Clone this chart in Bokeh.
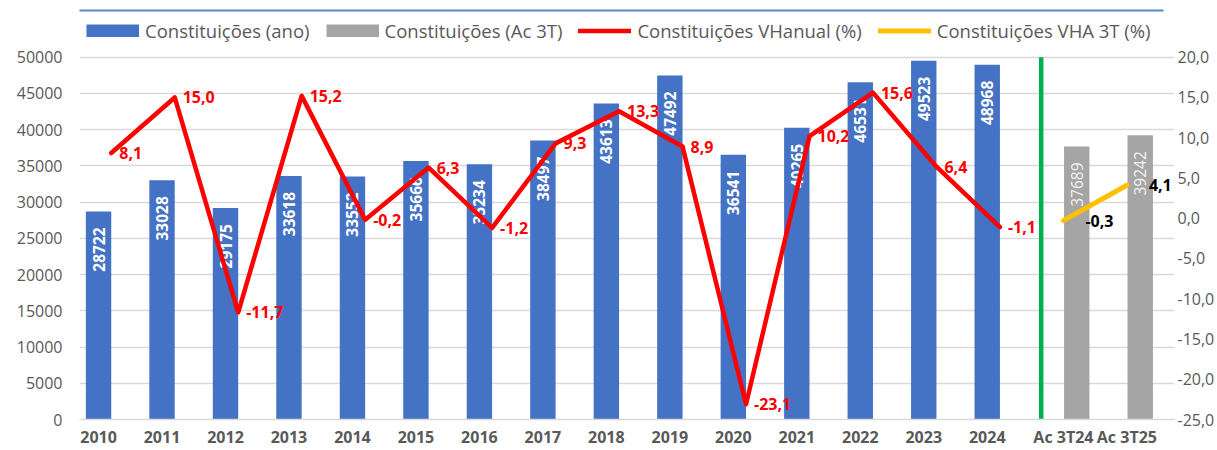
import math
from bokeh.plotting import figure
from bokeh.models import (Range1d, LinearAxis, FixedTicker, Legend, LegendItem,
                          ColumnDataSource, NumeralTickFormatter, LabelSet, BoxAnnotation)
from bokeh.transform import dodge
from bokeh.core.properties import value
from bokeh.embed import file_html
from bokeh.resources import INLINE

# ---------------- data ----------------
years = ["2010", "2011", "2012", "2013", "2014", "2015", "2016", "2017",
         "2018", "2019", "2020", "2021", "2022", "2023", "2024"]
annual_totals = [28722, 33028, 29175, 33618, 33552, 35666, 35234, 38497,
                 43613, 47492, 36541, 40265, 46531, 49523, 48968]
annual_change = [8.1, 15.0, -11.7, 15.2, -0.2, 6.3, -1.2, 9.3,
                 13.3, 8.9, -23.1, 10.2, 15.6, 6.4, -1.1]
ytd_periods = ["Ac 3T24", "Ac 3T25"]
ytd_totals = [37689, 39242]
ytd_change = [-0.3, 4.1]
categories = years + ytd_periods
separator_before = "Ac 3T24"
left_ticks = [0, 5000, 10000, 15000, 20000, 25000, 30000, 35000, 40000, 45000, 50000]
right_ticks = [-25, -20, -15, -10, -5, 0, 5, 10, 15, 20]

# ---------------- layout / style ----------------
FONT = "Open Sans"
AXIS_GREY = "#595959"
GRID = "#D9D9D9"
BLUE_SHIFT = -0.2
GREY_SHIFT = 0.21
W, H = 1217, 450
LEFT_PX, BOTTOM_PX = 79, 29          # space for the axes
TOP_PAD_PX, PLOT_PX = 57, 364        # legend strip above the value area, value-area height
RIGHT_EXTRA = 0.25                   # room (in category units) for the last point label


def pt(v):
    return f"{v:.1f}".replace(".", ",")


def centre(c):
    # centre of a category slot on the category scale (one unit per category)
    return categories.index(c) + 0.5


def extended_top(lo, hi):
    return hi + (hi - lo) * TOP_PAD_PX / PLOT_PX


src_a = ColumnDataSource(dict(xc=[centre(c) for c in years], total=annual_totals,
                              change=annual_change,
                              total_lbl=[str(v) for v in annual_totals],
                              change_lbl=[pt(v) for v in annual_change]))
src_y = ColumnDataSource(dict(xc=[centre(c) for c in ytd_periods], total=ytd_totals,
                              change=ytd_change,
                              total_lbl=[str(v) for v in ytd_totals],
                              change_lbl=[pt(v) for v in ytd_change]))

p = figure(x_range=Range1d(0, len(categories) + RIGHT_EXTRA),
           y_range=Range1d(left_ticks[0], extended_top(left_ticks[0], left_ticks[-1])),
           width=W, height=H, title=None, output_backend="svg", toolbar_location=None,
           x_axis_location=None, min_border_left=LEFT_PX, min_border_right=42,
           min_border_top=0, min_border_bottom=BOTTOM_PX)
p.outline_line_color = None
p.background_fill_color = "white"
p.border_fill_color = "white"

p.extra_y_ranges = {"pct": Range1d(right_ticks[0], extended_top(right_ticks[0], right_ticks[-1]))}

# grid
p.ygrid.ticker = FixedTicker(ticks=left_ticks)
p.ygrid.grid_line_color = GRID
p.ygrid.grid_line_width = 1.5
for g in p.xgrid:
    g.visible = False

# left axis
ya = p.yaxis[0]
ya.ticker = FixedTicker(ticks=left_ticks)
ya.formatter = NumeralTickFormatter(format="0")
ya.axis_line_color = None
ya.major_tick_line_color = None
ya.minor_tick_line_color = None
ya.major_tick_out = 0
ya.major_tick_in = 0
ya.major_label_standoff = 17
ya.major_label_text_font = FONT
ya.major_label_text_font_size = "16px"
ya.major_label_text_color = AXIS_GREY

# right axis
ra = LinearAxis(y_range_name="pct", ticker=FixedTicker(ticks=right_ticks),
                major_label_overrides={t: pt(t) for t in right_ticks})
ra.axis_line_color = None
ra.major_tick_line_color = None
ra.minor_tick_line_color = None
ra.major_tick_out = 0
ra.major_tick_in = 0
ra.major_label_standoff = 3
ra.major_label_text_font = FONT
ra.major_label_text_font_size = "16px"
ra.major_label_text_color = AXIS_GREY
p.add_layout(ra, "right")

# bottom axis (labels under annual bars, centred for the accumulated periods)
tick_pos = [round(centre(c) + (BLUE_SHIFT if c in years else 0.0), 3) for c in categories]
xa = LinearAxis(ticker=FixedTicker(ticks=tick_pos, minor_ticks=[]),
                major_label_overrides={t: c for t, c in zip(tick_pos, categories)})
xa.axis_line_color = GRID
xa.axis_line_width = 1.5
xa.major_tick_line_color = None
xa.minor_tick_line_color = None
xa.major_tick_out = 0
xa.major_tick_in = 0
xa.major_label_standoff = 6
xa.major_label_text_font = FONT
xa.major_label_text_font_size = "16px"
xa.major_label_text_font_style = "bold"
xa.major_label_text_color = AXIS_GREY
p.add_layout(xa, "below")

# bars
blue = p.vbar(x=dodge("xc", BLUE_SHIFT), top="total", width=0.4,
              fill_color="#4472C4", line_color=None, source=src_a)
grey = p.vbar(x=dodge("xc", GREY_SHIFT), top="total", width=0.4,
              fill_color="#A5A5A5", line_color=None, source=src_y)

# separator
src_sep = ColumnDataSource(dict(xc=[centre(separator_before)], y0=[left_ticks[0]], y1=[left_ticks[-1]]))
p.segment(x0=dodge("xc", -0.35), x1=dodge("xc", -0.35),
          y0="y0", y1="y1", line_color="#00B050", line_width=4.5, source=src_sep)

# bar value labels
p.text(x=dodge("xc", BLUE_SHIFT), y="total", text="total_lbl",
       angle=math.pi / 2, text_align="right", text_baseline="middle", y_offset=16,
       text_color="white", text_font=value(FONT), text_font_style="bold",
       text_font_size="15.5px", source=src_a)
p.text(x=dodge("xc", GREY_SHIFT), y="total", text="total_lbl",
       angle=math.pi / 2, text_align="right", text_baseline="middle", y_offset=16,
       text_color="#F2F2F2", text_font=value(FONT),
       text_font_size="15.5px", source=src_y)

# lines
red = p.line(x="xc", y="change", y_range_name="pct", line_color="#FF0000", line_width=4.5,
             line_join="round", line_cap="round", source=src_a)
yellow = p.line(x="xc", y="change", y_range_name="pct", line_color="#FFC000", line_width=5,
                line_join="round", line_cap="round", source=src_y)

p.add_layout(LabelSet(x="xc", y="change", text="change_lbl", y_range_name="pct",
                      x_offset=8, text_align="left", text_baseline="middle",
                      text_color="#FF0000", text_font=value(FONT), text_font_style="bold",
                      text_font_size="16px", source=src_a))
p.add_layout(LabelSet(x="xc", y="change", text="change_lbl", y_range_name="pct",
                      x_offset=22, text_align="left", text_baseline="middle",
                      text_color="black", text_font=value(FONT), text_font_style="bold",
                      text_font_size="16px", source=src_y))

# legend swatches for the bar series (flat rectangles, as in the original);
# a single NaN point keeps them invisible in the plot itself
nan = float("nan")
blue_key = p.line(x=[nan], y=[nan], line_color="#4472C4", line_width=13, line_cap="butt")
grey_key = p.line(x=[nan], y=[nan], line_color="#A5A5A5", line_width=13, line_cap="butt")

legend = Legend(items=[LegendItem(label="Constituições (ano)", renderers=[blue_key]),
                       LegendItem(label="Constituições (Ac 3T)", renderers=[grey_key]),
                       LegendItem(label="Constituições VHanual (%)", renderers=[red]),
                       LegendItem(label="Constituições VHA 3T (%)", renderers=[yellow])],
                orientation="horizontal", location=(7, 376))
legend.glyph_width = 53
legend.glyph_height = 13
legend.label_standoff = 6
legend.spacing = 16
legend.padding = 0
legend.margin = 0
legend.border_line_color = None
legend.background_fill_alpha = 0
legend.label_text_font = FONT
legend.label_text_font_size = "18.5px"
legend.label_text_color = AXIS_GREY
p.add_layout(legend)

# thin rule along the top of the chart
p.add_layout(BoxAnnotation(left=0, right=1163, top=9, bottom=11,
                           left_units="canvas", right_units="canvas",
                           top_units="canvas", bottom_units="canvas",
                           fill_color="#5A8AC6", fill_alpha=1, line_color=None,
                           level="overlay"))

open("out.html", "w").write(file_html(p, INLINE))
